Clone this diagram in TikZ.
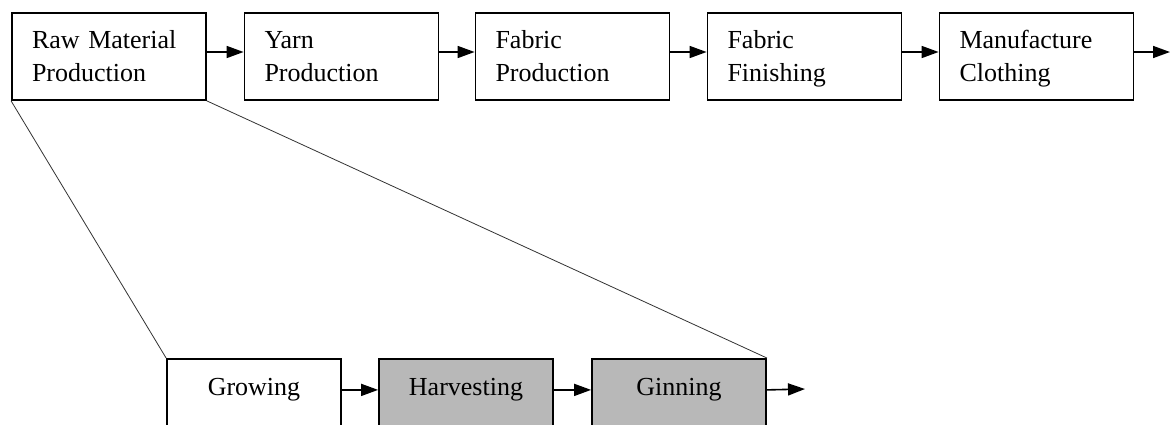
\documentclass[tikz,border=0pt]{standalone}
\usepackage{fontspec}
\setmainfont{Liberation Serif}
\usetikzlibrary{arrows.meta}
\begin{document}
\begin{tikzpicture}[x=1pt,y=-1pt,
  topbox/.style={draw,line width=1.8pt,minimum width=194pt,minimum height=87pt,inner xsep=20pt,inner ysep=0pt,text width=154pt,align=left,font=\fontsize{26}{33}\selectfont,text height=21pt,text depth=37.5pt},
  lowbox/.style={draw,line width=1.8pt,minimum width=174pt,inner sep=0pt,text height=37pt,text depth=35pt,font=\fontsize{26}{33}\selectfont,anchor=north},
  shaded/.style={fill=black!28},
  flow/.style={line width=1.6pt,-{Triangle[length=17pt,width=12pt]}},
  zoomline/.style={line width=0.8pt,black!80}]
\useasboundingbox (0,0) rectangle (1170,424);
\clip (0,0) rectangle (1170,424);
\fill[white] (0,0) rectangle (1170,424);
% top row
\node[topbox] (raw)  at (109,56.5)   {Raw Material\\Production};
\node[topbox] (yarn) at (341.5,56.5) {Yarn\\Production};
\node[topbox] (fab)  at (572.5,56.5) {Fabric\\Production};
\node[topbox] (fin)  at (804.5,56.5) {Fabric\\Finishing};
\node[topbox] (man)  at (1036.5,56.5) {Manufacture\\Clothing};
\coordinate (end1) at (1170,52);
% bottom row
\node[lowbox] (grow) at (254,358) {Growing};
\node[lowbox,shaded] (harv) at (466,358) {Harvesting};
\node[lowbox,shaded] (gin) at (679,358) {Ginning};
\coordinate (end2) at (805,389);
% arrows
\draw[flow] ([yshift=4.5pt]raw.east) -- ([yshift=4.5pt]yarn.west);
\draw[flow] ([yshift=4.5pt]yarn.east) -- ([yshift=4.5pt]fab.west);
\draw[flow] ([yshift=4.5pt]fab.east) -- ([yshift=4.5pt]fin.west);
\draw[flow] ([yshift=4.5pt]fin.east) -- ([yshift=4.5pt]man.west);
\draw[flow] ([yshift=4.5pt]man.east) -- (end1);
\draw[flow] ([yshift=5pt]grow.east) -- ([yshift=5pt]harv.west);
\draw[flow] ([yshift=5pt]harv.east) -- ([yshift=5pt]gin.west);
\draw[flow] ([yshift=5pt]gin.east) -- (end2);
% zoom lines
\draw[zoomline] (raw.south west) -- (grow.north west);
\draw[zoomline] (raw.south east) -- (gin.north east);
\end{tikzpicture}
\end{document}
